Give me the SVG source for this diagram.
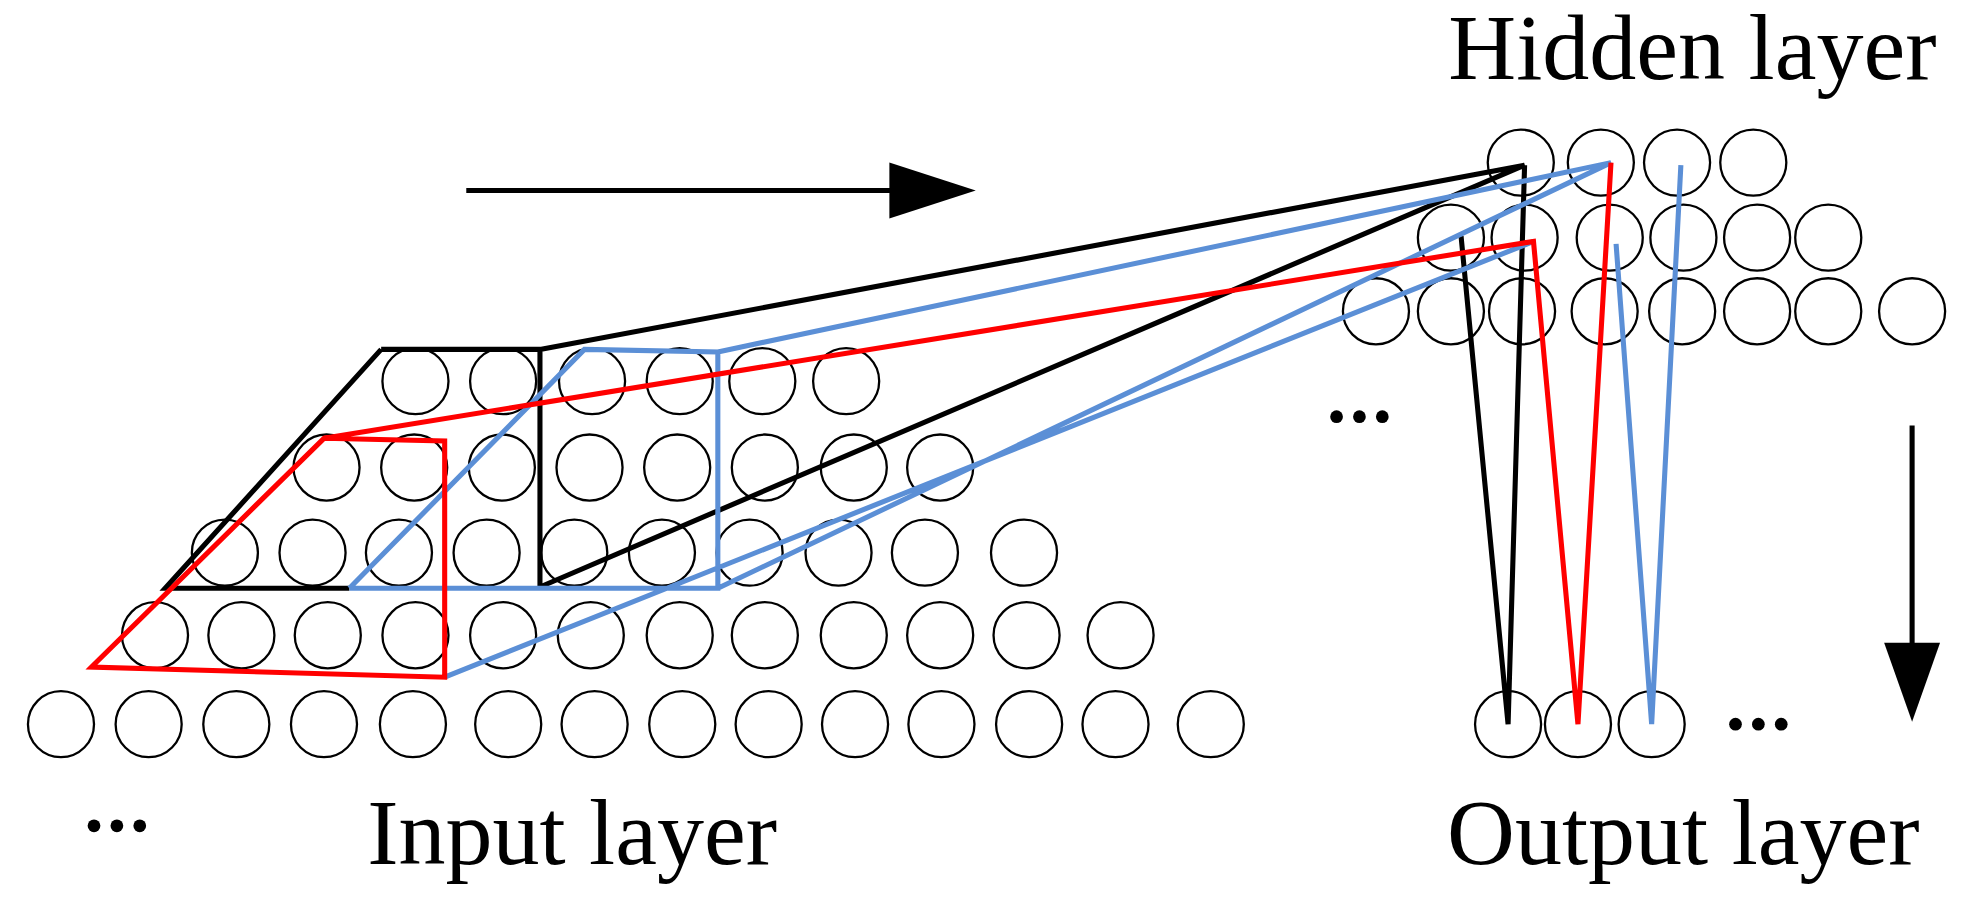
<svg xmlns="http://www.w3.org/2000/svg" width="1982" height="920" viewBox="0 0 1982 920">
<style>
.n{fill:none;stroke:#000;stroke-width:1.8}
.t{font-family:"Liberation Serif",serif;font-size:74px;fill:#000}
.k{stroke:#000;stroke-width:4;fill:none}
.r{stroke:#ff0000;stroke-width:4;fill:none}
.b{stroke:#5b8fd6;stroke-width:4;fill:none}
</style>
<rect width="1982" height="920" fill="#fff"/>
<g transform="scale(1.2705)">
<g id="input-layer">
<g class="n">
<circle cx="327" cy="300" r="26"/><circle cx="396" cy="300" r="26"/><circle cx="466" cy="300" r="26"/><circle cx="535" cy="300" r="26"/><circle cx="600" cy="300" r="26"/><circle cx="666" cy="300" r="26"/>
<circle cx="257" cy="368" r="26"/><circle cx="326" cy="368" r="26"/><circle cx="395" cy="368" r="26"/><circle cx="464" cy="368" r="26"/><circle cx="533" cy="368" r="26"/><circle cx="602" cy="368" r="26"/><circle cx="672" cy="368" r="26"/><circle cx="740" cy="368" r="26"/>
<circle cx="177" cy="435" r="26"/><circle cx="246" cy="435" r="26"/><circle cx="314" cy="435" r="26"/><circle cx="383" cy="435" r="26"/><circle cx="452" cy="435" r="26"/><circle cx="521" cy="435" r="26"/><circle cx="590" cy="435" r="26"/><circle cx="660" cy="435" r="26"/><circle cx="728" cy="435" r="26"/><circle cx="806" cy="435" r="26"/>
<circle cx="122" cy="500" r="26"/><circle cx="190" cy="500" r="26"/><circle cx="258" cy="500" r="26"/><circle cx="327" cy="500" r="26"/><circle cx="396" cy="500" r="26"/><circle cx="465" cy="500" r="26"/><circle cx="535" cy="500" r="26"/><circle cx="602" cy="500" r="26"/><circle cx="672" cy="500" r="26"/><circle cx="740" cy="500" r="26"/><circle cx="808" cy="500" r="26"/><circle cx="882" cy="500" r="26"/>
<circle cx="48" cy="570" r="26"/><circle cx="117" cy="570" r="26"/><circle cx="186" cy="570" r="26"/><circle cx="255" cy="570" r="26"/><circle cx="325" cy="570" r="26"/><circle cx="400" cy="570" r="26"/><circle cx="468" cy="570" r="26"/><circle cx="537" cy="570" r="26"/><circle cx="605" cy="570" r="26"/><circle cx="673" cy="570" r="26"/><circle cx="741" cy="570" r="26"/><circle cx="810" cy="570" r="26"/><circle cx="878" cy="570" r="26"/><circle cx="953" cy="570" r="26"/>
</g>
<text class="t" x="289" y="680">Input layer</text>
<g fill="#000"><circle cx="74" cy="650" r="5"/><circle cx="92" cy="650" r="5"/><circle cx="110" cy="650" r="5"/></g>
</g>
<g id="hidden-layer">
<g class="n">
<circle cx="1197" cy="128" r="26"/><circle cx="1260" cy="128" r="26"/><circle cx="1320" cy="128" r="26"/><circle cx="1380" cy="128" r="26"/>
<circle cx="1142" cy="187" r="26"/><circle cx="1200" cy="187" r="26"/><circle cx="1267" cy="187" r="26"/><circle cx="1325" cy="187" r="26"/><circle cx="1383" cy="187" r="26"/><circle cx="1439" cy="187" r="26"/>
<circle cx="1083" cy="245" r="26"/><circle cx="1142" cy="245" r="26"/><circle cx="1198" cy="245" r="26"/><circle cx="1263" cy="245" r="26"/><circle cx="1324" cy="245" r="26"/><circle cx="1383" cy="245" r="26"/><circle cx="1439" cy="245" r="26"/><circle cx="1505" cy="245" r="26"/>
</g>
<text class="t" x="1140" y="62">Hidden layer</text>
<g fill="#000"><circle cx="1052" cy="328" r="5"/><circle cx="1070" cy="328" r="5"/><circle cx="1088" cy="328" r="5"/></g>
</g>
<g id="output-layer">
<g class="n"><circle cx="1187" cy="570" r="26"/><circle cx="1242" cy="570" r="26"/><circle cx="1300" cy="570" r="26"/></g>
<text class="t" x="1139" y="680">Output layer</text>
<g fill="#000"><circle cx="1366" cy="570" r="5"/><circle cx="1384" cy="570" r="5"/><circle cx="1402" cy="570" r="5"/></g>
</g>
<g id="connectors">
<path class="k" d="M300,275 L130,463 L275,463 M300,275 L425,275 L425,462 M425,275 L1200,130 L425,462 M1200,130 L1187,570 L1150,186"/>
<path class="b" d="M275,463 L565,463 L565,277 L460,275 L275,463 M565,277 L1268,128 L565,463 M350,533 L1207,190 M1323,130 L1300,570 L1272,192"/>
<path class="r" d="M72,525 L255,345 L350,347 L350,533 Z M255,345 L1207,190 L1242,570 L1268,128"/>
<line x1="367" y1="150" x2="705" y2="150" stroke="#000" stroke-width="4"/>
<path d="M700,128 L768,150 L700,172Z"/>
<line x1="1505" y1="335" x2="1505" y2="512" stroke="#000" stroke-width="4"/>
<path d="M1483,506 L1527,506 L1505,568Z"/>
</g>
</g>
</svg>
